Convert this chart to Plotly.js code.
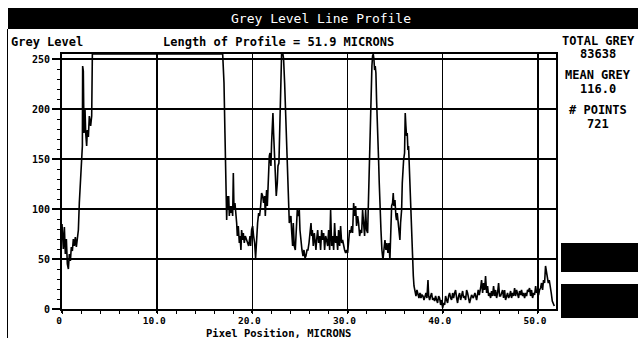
<!DOCTYPE html>
<html>
<head>
<meta charset="utf-8">
<script src="https://cdn.plot.ly/plotly-3.0.1.min.js"></script>
<style>html,body{margin:0;padding:0;background:#fff;}#chart{width:638px;height:338px;}</style>
</head>
<body>
<div id="chart"></div>
<script>
// ---- data: position (microns) and grey level ----
const posA = [0.00,0.14,0.25,0.35,0.46,0.56,0.67,0.77,0.88,0.98,1.09,1.19,1.30,1.40,1.51,1.61,1.72,1.82,1.96,2.07,2.14,2.17,2.24,2.31,2.42,2.49,2.59,2.66,2.77,2.87,3.01,3.12,3.19];
const greyA = [85,60,82,55,70,45,40,55,48,62,58,70,63,72,62,71,79,106,133,159,163,243,238,176,199,176,163,179,172,193,183,193,255];

const posB = [16.88,17.02,17.12,17.19,17.30,17.37,17.44,17.51,17.58,17.65,17.75,17.82,17.93,18.00,18.07,18.17,18.28,18.35,18.42,18.52,18.63,18.70,18.80,18.87,18.98,19.05,19.15,19.26,19.40,19.50,19.61,19.75,19.82,19.92,20.03,20.13,20.24,20.34,20.45,20.55,20.66,20.76,20.87,20.97,21.08,21.18,21.29,21.36,21.43,21.50,21.57,21.64,21.71,21.78,21.85,21.95,22.02,22.09,22.16,22.23,22.30,22.37,22.44,22.51,22.62,22.69,22.79,22.86,22.93,23.00,23.07,23.21,23.28,23.39,23.49,23.60,23.70,23.81,23.88,23.95,24.05,24.12,24.23,24.30,24.40,24.51,24.61,24.72,24.82,24.93,25.00];
const greyB = [255,226,176,136,89,113,99,113,93,103,96,103,93,136,99,106,96,86,73,83,66,73,59,79,69,76,66,73,69,66,63,73,63,79,83,73,66,51,79,86,96,93,103,116,113,106,113,93,109,119,103,126,136,153,156,143,166,193,196,176,156,133,116,113,126,143,146,176,209,250,255,255,250,226,199,173,143,119,86,90,93,79,63,86,63,59,73,99,93,99,79];

const posC = [25.11,25.21,25.32,25.42,25.53,25.63,25.74,25.84,25.95,26.05,26.16,26.23,26.30,26.40,26.51,26.61,26.68,26.75,26.86,26.96,27.07,27.17,27.28,27.38,27.49,27.59,27.70,27.80,27.91,28.01,28.12,28.22,28.33,28.43,28.54,28.64,28.75,28.85,28.96,29.06,29.17,29.27,29.38,29.48,29.59,29.69,29.80,29.90,30.01,30.11,30.22,30.32,30.43,30.53,30.64,30.74,30.85,30.95,31.06,31.16,31.27,31.37,31.48,31.58,31.69,31.79,31.90,32.00,32.11,32.21,32.28,32.35,32.42,32.49,32.56,32.63,32.70,32.77,32.84,32.91,32.98,33.05,33.12,33.19,33.26,33.33,33.40,33.51,33.61,33.72,33.82,33.93,34.03,34.14,34.24,34.35,34.45];
const greyC = [63,59,53,59,51,53,59,59,66,73,86,73,79,63,76,66,59,69,79,66,73,59,79,69,76,59,73,69,63,79,59,99,63,73,59,86,66,73,59,79,63,83,66,69,63,59,56,59,56,66,79,76,83,76,106,93,103,83,93,86,73,79,76,99,83,73,99,79,76,119,149,176,206,233,243,253,255,250,239,243,236,209,193,166,149,126,99,79,59,49,59,69,59,66,56,66,49];

const posD = [34.56,34.63,34.73,34.80,34.87,34.98,35.08,35.15,35.22,35.33,35.43,35.50,35.57,35.68,35.75,35.82,35.89,35.99,36.06,36.13,36.20,36.27,36.34,36.41,36.48,36.55,36.62,36.69,36.76,36.84,36.91,36.98,37.08,37.19,37.29,37.40,37.50,37.61,37.71,37.82,37.92,38.03,38.13,38.24,38.34,38.45,38.52,38.62,38.73,38.83,38.94,39.04,39.15,39.25,39.36,39.46,39.57,39.67,39.78,39.88,39.99,40.09,40.20,40.30,40.41,40.51,40.62,40.72,40.83,40.93,41.04,41.14,41.25,41.35,41.46,41.56,41.67,41.77,41.88,41.98,42.09,42.19,42.30,42.40,42.51,42.61,42.72,42.82];
const greyD = [86,103,106,116,103,109,93,89,96,86,79,69,86,99,126,146,149,156,196,183,173,176,159,163,143,119,99,76,59,46,33,23,16,13,19,13,11,16,11,14,13,9,13,16,11,29,13,9,13,16,9,11,8,13,9,6,13,11,4,9,1,6,4,13,9,6,13,16,11,9,16,11,16,19,11,6,13,16,9,13,18,11,13,9,19,16,11,6];

const posE = [43.03,43.21,43.38,43.56,43.73,43.84,43.98,44.08,44.19,44.29,44.40,44.50,44.61,44.71,44.82,44.92,45.03,45.13,45.24,45.34,45.45,45.55,45.66,45.76,45.87,45.97,46.08,46.18,46.29,46.39,46.50,46.60,46.71,46.81,46.92,47.02,47.13,47.23,47.34,47.44,47.55,47.65,47.76,47.86,47.97,48.07,48.18,48.28,48.39,48.49,48.60,48.70,48.81,48.91,49.02,49.12,49.23,49.33,49.44,49.55,49.65,49.76,49.86,49.96,50.07,50.17,50.28,50.38,50.49,50.59,50.70,50.80,50.87,50.98,51.09,51.19,51.30,51.40,51.51,51.61,51.72];
const greyE = [14,11,16,9,19,14,21,29,16,26,19,33,16,23,13,16,11,18,13,23,13,19,11,16,26,13,13,16,19,11,19,9,13,16,11,13,18,11,16,13,21,13,19,14,11,18,14,19,13,16,11,16,13,19,18,21,13,19,11,16,14,23,16,18,14,19,21,26,19,29,26,43,39,33,26,29,19,16,8,6,3];

const xTickVals = [0,10,20,30,40,50];
const xTickText = ['0','10.0','20.0','30.0','40.0','50.0'];
const yTickVals = [0,50,100,150,200,250];
const yTickText = ['0','50','100','150','200','250'];

const chartTitle = 'Grey Level Line Profile';
const yLabel = 'Grey Level';
const lengthLabel = 'Length of Profile = 51.9 MICRONS';
const xLabel = 'Pixel Position, MICRONS';
const statLines = ['TOTAL GREY','83638','MEAN GREY','116.0','# POINTS','721'];

// ---- drawing ----
const position = [].concat(posA, posB, posC, posD, posE);
const grey = [].concat(greyA, greyB, greyC, greyD, greyE);

const L = 62, R = 556, T = 54, B = 309;
const px = v => (v - L) / (R - L);
const py = v => (B - v) / (B - T);
const MONO = 'DejaVu Sans Mono';

const trace = {
  x: position, y: grey, type: 'scatter', mode: 'lines',
  line: {color: '#000', width: 1.6}, hoverinfo: 'skip'
};

const statY = [41, 54, 75, 89, 110, 124];
const annotations = [
  {text: chartTitle, x: px(321), y: py(18), xref: 'paper', yref: 'paper', showarrow: false,
   xanchor: 'center', yanchor: 'middle', font: {family: MONO, size: 13, color: '#fff'}},
  {text: yLabel, x: px(9), y: py(42), xref: 'paper', yref: 'paper', showarrow: false,
   xanchor: 'left', yanchor: 'middle', font: {family: MONO, size: 12, color: '#000', weight: 'bold'}},
  {text: lengthLabel, x: px(278), y: py(42), xref: 'paper', yref: 'paper', showarrow: false,
   xanchor: 'center', yanchor: 'middle', font: {family: MONO, size: 12, color: '#000', weight: 'bold'}},
  {text: xLabel, x: px(278), y: py(333), xref: 'paper', yref: 'paper', showarrow: false, borderpad: 0,
   xanchor: 'center', yanchor: 'middle', font: {family: MONO, size: 10.5, color: '#000', weight: 'bold'}}
].concat(statLines.map((t, i) => ({
  text: t, x: px(598), y: py(statY[i]), xref: 'paper', yref: 'paper', showarrow: false,
  xanchor: 'center', yanchor: 'middle', font: {family: MONO, size: 12, color: '#000', weight: 'bold'}
})));

const shapes = [
  {type: 'rect', xref: 'paper', yref: 'paper', x0: px(8), x1: px(638), y0: py(29), y1: py(8),
   fillcolor: '#000', line: {width: 0}, layer: 'below'},
  {type: 'line', xref: 'paper', yref: 'paper', x0: px(7.5), x1: px(7.5), y0: py(29), y1: py(338),
   line: {color: '#000', width: 1}},
  {type: 'rect', xref: 'paper', yref: 'paper', x0: px(561), x1: px(638), y0: py(272), y1: py(243),
   fillcolor: '#000', line: {width: 0}},
  {type: 'rect', xref: 'paper', yref: 'paper', x0: px(561), x1: px(638), y0: py(318), y1: py(284),
   fillcolor: '#000', line: {width: 0}}
];

const layout = {
  width: 638, height: 338,
  margin: {l: L, r: 638 - R, t: T, b: 338 - B, pad: 0},
  paper_bgcolor: '#fff', plot_bgcolor: '#fff',
  showlegend: false,
  font: {family: MONO, color: '#000'},
  xaxis: {
    range: [0, 51.9], autorange: false, fixedrange: true,
    tickmode: 'array', tickvals: xTickVals, ticktext: xTickText,
    ticks: 'outside', ticklen: 2, tickwidth: 2, tickcolor: '#000',
    ticklabelshift: -3, ticklabelstandoff: 0,
    tickfont: {family: MONO, size: 9.5, color: '#000', weight: 'bold'},
    showgrid: true, gridcolor: '#000', gridwidth: 1.5,
    showline: true, linecolor: '#000', linewidth: 2, mirror: true,
    zeroline: false,
    minor: {dtick: 2, tick0: 0, ticks: 'outside', ticklen: 3, tickwidth: 1, tickcolor: '#000', showgrid: false}
  },
  yaxis: {
    range: [0, 255], autorange: false, fixedrange: true,
    tickmode: 'array', tickvals: yTickVals, ticktext: yTickText,
    ticks: 'outside', ticklen: 8, tickwidth: 2, tickcolor: '#000',
    tickfont: {family: MONO, size: 10, color: '#000', weight: 'bold'},
    showgrid: true, gridcolor: '#000', gridwidth: 1.5,
    showline: true, linecolor: '#000', linewidth: 2, mirror: true,
    zeroline: false,
    minor: {dtick: 10, tick0: 0, ticks: 'outside', ticklen: 3, tickwidth: 1, tickcolor: '#000', showgrid: false}
  },
  annotations: annotations,
  shapes: shapes
};

Plotly.newPlot('chart', [trace], layout, {displayModeBar: false, staticPlot: true});
</script>
</body>
</html>
